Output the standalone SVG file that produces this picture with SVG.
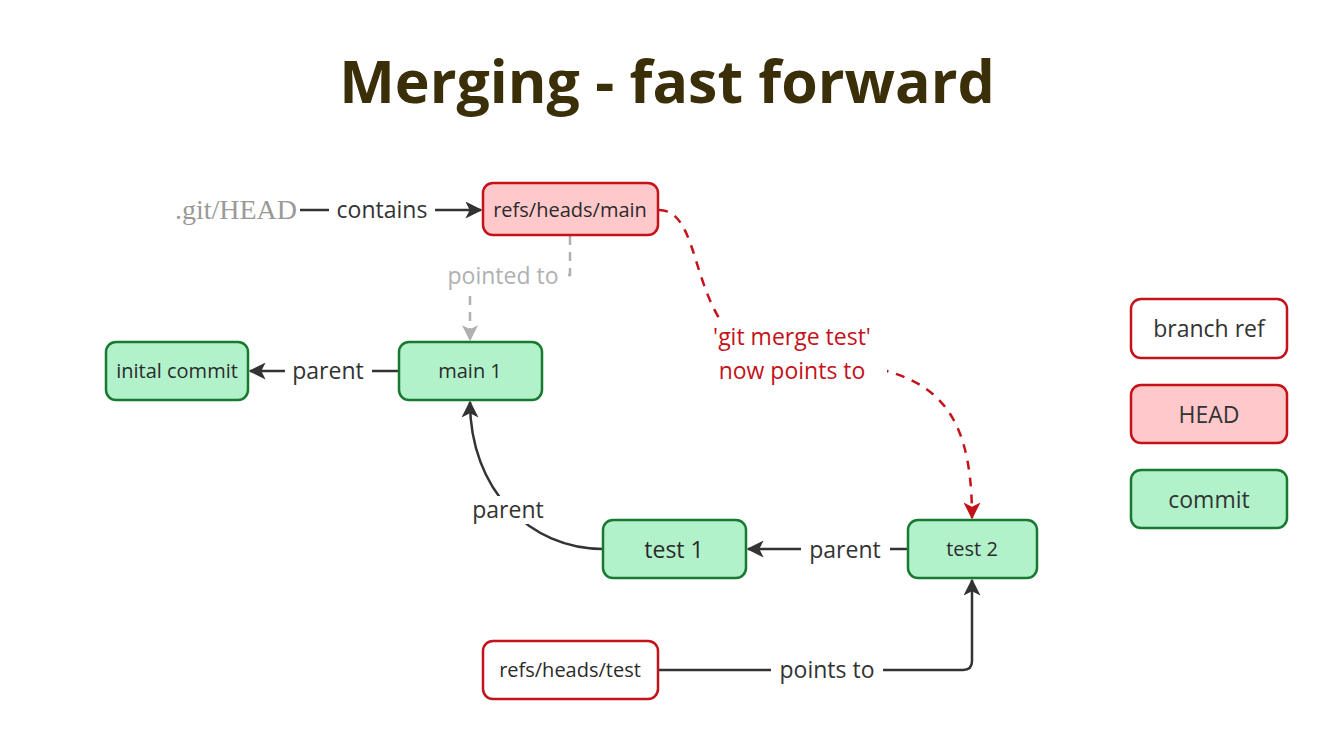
<svg xmlns="http://www.w3.org/2000/svg" width="1333" height="750" viewBox="0 0 1333 750">
<style>
text{font-family:"Open Sans","Noto Sans",sans-serif;text-anchor:middle;dominant-baseline:central;fill:#2b2b2b}
.commit{fill:#b2f2cb;stroke:#187a31;stroke-width:2.5}
.head{fill:#ffc8ca;stroke:#c4121a;stroke-width:2.5}
.ref{fill:#fff;stroke:#c4121a;stroke-width:2.5}
.n{font-size:20px}
.lbl{font-size:23px;fill:#333}
.edge{fill:none;stroke:#333;stroke-width:2.5}
</style>
<defs>
<marker id="ah" viewBox="0 0 12 12" refX="11" refY="6" markerWidth="17" markerHeight="17" markerUnits="userSpaceOnUse" orient="auto">
<path d="M0,0 L12,6 L0,12 L3,6 z" fill="#333"/>
</marker>
<marker id="ahg" viewBox="0 0 12 12" refX="11" refY="6" markerWidth="16" markerHeight="16" markerUnits="userSpaceOnUse" orient="auto">
<path d="M0,0 L12,6 L0,12 L3,6 z" fill="#b0b0b3"/>
</marker>
<marker id="ahr" viewBox="0 0 12 12" refX="11" refY="6" markerWidth="17" markerHeight="17" markerUnits="userSpaceOnUse" orient="auto">
<path d="M0,0 L12,6 L0,12 L3,6 z" fill="#c4121a"/>
</marker>
</defs>
<rect width="1333" height="750" fill="#fff"/>
<text x="667" y="80" style="font-size:59px;font-weight:700;fill:#3b2f0a">Merging - fast forward</text>

<g id="connectors">
<path class="edge" d="M300,210 H481" marker-end="url(#ah)"/>
<rect x="329" y="196" width="106" height="28" fill="#fff"/>
<text class="lbl" x="382" y="209">contains</text>

<path d="M570,236 V275 H470 V340" fill="none" stroke="#b0b0b3" stroke-width="2.5" stroke-dasharray="9,7" marker-end="url(#ahg)"/>
<rect x="444" y="262" width="120" height="28" fill="#fff"/>
<text class="lbl" x="503" y="275" style="fill:#b0b0b3">pointed to</text>

<path class="edge" d="M399,371 H250" marker-end="url(#ah)"/>
<rect x="285" y="357" width="87" height="28" fill="#fff"/>
<text class="lbl" x="328" y="370">parent</text>

<path class="edge" d="M603,549 C530,549 470,490 470,402" marker-end="url(#ah)"/>
<rect x="466" y="496" width="84" height="28" fill="#fff"/>
<text class="lbl" x="508" y="509">parent</text>

<path class="edge" d="M908,549 H748" marker-end="url(#ah)"/>
<rect x="801" y="535" width="89" height="28" fill="#fff"/>
<text class="lbl" x="845" y="549">parent</text>

<path class="edge" d="M658,670 H963 Q972,670 972,661 V580" marker-end="url(#ah)"/>
<rect x="771" y="656" width="112" height="28" fill="#fff"/>
<text class="lbl" x="827" y="669">points to</text>

<path d="M659,210 C712,210 680,362 800,362 C930,362 972,400 972,518" fill="none" stroke="#c4121a" stroke-width="2.5" stroke-dasharray="9,8" marker-end="url(#ahr)"/>
<rect x="705" y="320" width="182" height="66" fill="#fff"/>
<text x="792" y="336" style="font-size:23px;fill:#c4121a">'git merge test'</text>
<text x="792" y="370" style="font-size:23px;fill:#c4121a">now points to</text>
</g>

<g id="git-head"><text x="236" y="209" style="font-family:'Liberation Serif',serif;font-size:28px;fill:#999">.git/HEAD</text></g>

<g id="refs-heads-main"><rect class="head" x="483" y="183" width="175" height="52" rx="10"/><text class="n" x="570" y="209">refs/heads/main</text></g>
<g id="inital-commit"><rect class="commit" x="106" y="342" width="142" height="58" rx="10"/><text class="n" x="177" y="370">inital commit</text></g>
<g id="main-1"><rect class="commit" x="399" y="342" width="143" height="58" rx="10"/><text class="n" x="470" y="370">main 1</text></g>
<g id="test-1"><rect class="commit" x="603" y="520" width="143" height="58" rx="10"/><text x="674" y="549" style="font-size:23px">test 1</text></g>
<g id="test-2"><rect class="commit" x="908" y="520" width="129" height="58" rx="10"/><text class="n" x="972" y="548">test 2</text></g>
<g id="refs-heads-test"><rect class="ref" x="483" y="641" width="175" height="58" rx="10"/><text class="n" x="570" y="669">refs/heads/test</text></g>

<g id="legend-branch-ref"><rect class="ref" x="1131" y="299" width="156" height="59" rx="10"/><text class="lbl" x="1209" y="328">branch ref</text></g>
<g id="legend-head"><rect class="head" x="1131" y="385" width="156" height="58" rx="10"/><text class="lbl" x="1209" y="414">HEAD</text></g>
<g id="legend-commit"><rect class="commit" x="1131" y="470" width="156" height="58" rx="10"/><text class="lbl" x="1209" y="499">commit</text></g>
</svg>
